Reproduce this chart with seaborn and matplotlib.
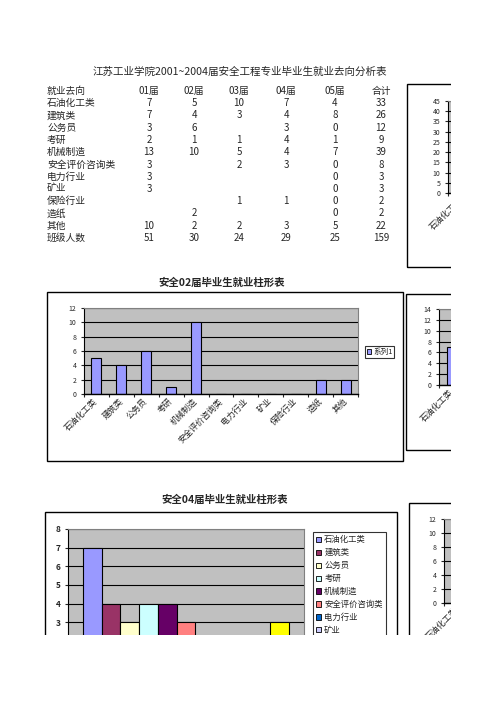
import matplotlib
matplotlib.use('Agg')
import matplotlib.pyplot as plt
from matplotlib.patches import Rectangle, Patch
import seaborn as sns
import pandas as pd
import numpy as np

# Data
categories = ['石油化工类', '建筑类', '公务员', '考研', '机械制造', '安全评价咨询类',
              '电力行业', '矿业', '保险行业', '造纸', '其他']
grad01 = [7, 7, 3, 2, 13, 3, 3, 3, None, None, 10]
grad02 = [5, 4, 6, 1, 10, None, None, None, None, 2, 2]
grad03 = [10, 3, None, 1, 5, 2, None, None, 1, None, 2]
grad04 = [7, 4, 3, 4, 4, 3, None, None, 1, None, 3]
grad05 = [4, 8, 0, 1, 7, 0, 0, 0, 0, 0, 5]
totals = [33, 26, 12, 9, 39, 8, 3, 3, 2, 2, 22]
class_sizes = [51, 30, 24, 29, 25, 159]
col_headers = ['01届', '02届', '03届', '04届', '05届', '合计']

series_colors = ['#9999FF', '#993366', '#FFFFCC', '#CCFFFF', '#660066', '#FF8080',
                 '#0066CC', '#CCCCFF', '#000080', '#FF00FF', '#FFFF00']

W, H = 496, 702

sns.set_style('white')
plt.rcParams['font.family'] = ['Noto Sans CJK SC', 'DejaVu Sans']

fig = plt.figure(figsize=(W / 100, H / 100), dpi=100)


def fx(x):
    return x / W


def fy(y):
    return 1 - y / H


def add_axes_px(x0, y0, x1, y1):
    return fig.add_axes([fx(x0), fy(y1), (x1 - x0) / W, (y1 - y0) / H])


def box_px(x0, y0, x1, y1):
    fig.add_artist(Rectangle((fx(x0), fy(y1)), (x1 - x0) / W, (y1 - y0) / H,
                             transform=fig.transFigure, fill=False,
                             edgecolor='black', linewidth=1.0, zorder=1))


def zeros(vals):
    return [0 if v is None else v for v in vals]


def style_chart(ax, ymax, ystep, tick_fs=5, n=11, xlabels=True, label_fs=6):
    ax.set_facecolor('#C0C0C0')
    ax.set_ylim(0, ymax)
    ax.set_yticks(np.arange(0, ymax + ystep / 2, ystep))
    ax.yaxis.grid(True, color='black', linewidth=0.8)
    ax.set_axisbelow(True)
    for s in ax.spines.values():
        s.set_visible(True)
        s.set_color('#808080')
        s.set_linewidth(0.8)
    ax.spines['left'].set_color('black')
    ax.spines['bottom'].set_color('black')
    ax.spines['bottom'].set_linewidth(1.0)
    ax.set_xlabel('')
    ax.set_ylabel('')
    ax.tick_params(axis='y', labelsize=tick_fs, length=2.5, direction='out',
                   pad=3, left=True, width=0.8)
    if xlabels:
        ax.set_xlim(-0.5, n - 0.5)
        ax.set_xticks(np.arange(-0.5, n), minor=True)
        ax.tick_params(axis='x', which='major', length=0, labelsize=label_fs, pad=4)
        ax.tick_params(axis='x', which='minor', length=2.5, direction='out',
                       bottom=True, width=0.8)
        for lab in ax.get_xticklabels():
            lab.set_rotation(45)
            lab.set_ha('right')
            lab.set_va('center')
            lab.set_rotation_mode('anchor')


def bar_chart(box, values, ymax, ystep, cut=False):
    ax = add_axes_px(*box)
    df = pd.DataFrame({'去向': categories, '人数': zeros(values)})
    sns.barplot(data=df, x='去向', y='人数', order=categories, color='#9999FF',
                width=0.4, edgecolor='black', linewidth=0.8, saturation=1, ax=ax)
    if cut:
        # only the first category label is on the visible part of the sheet
        ax.set_xticks(range(len(categories)))
        ax.set_xticklabels([categories[0]] + [''] * (len(categories) - 1))
    style_chart(ax, ymax, ystep)
    return ax


# ---- table ----
fig.text(fx(240), fy(72), '江苏工业学院2001~2004届安全工程专业毕业生就业去向分析表',
         ha='center', va='center', fontsize=7.6)
row_y0, row_step = 91, 12.25
col_x = [149, 194, 239, 286, 335, 381]
tfs = 7
fig.text(fx(47), fy(row_y0), '就业去向', ha='left', va='center', fontsize=tfs)
for j, h in enumerate(col_headers):
    fig.text(fx(col_x[j]), fy(row_y0), h, ha='center', va='center', fontsize=tfs)
columns = [grad01, grad02, grad03, grad04, grad05, totals]
for i, cat in enumerate(categories):
    y = row_y0 + row_step * (i + 1)
    fig.text(fx(47), fy(y), cat, ha='left', va='center', fontsize=tfs)
    for j, col in enumerate(columns):
        if col[i] is not None:
            fig.text(fx(col_x[j]), fy(y), str(col[i]), ha='center', va='center', fontsize=tfs)
y = row_y0 + row_step * (len(categories) + 1)
fig.text(fx(47), fy(y), '班级人数', ha='left', va='center', fontsize=tfs)
for j, v in enumerate(class_sizes):
    fig.text(fx(col_x[j]), fy(y), str(v), ha='center', va='center', fontsize=tfs)

# ---- partial chart (totals), right top ----
box_px(407, 84, 520, 267)
bar_chart((448, 101, 723, 193), totals, 45, 5, cut=True)

# ---- 02 chart ----
fig.text(fx(222), fy(283), '安全02届毕业生就业柱形表', ha='center', va='center',
         fontsize=7.5, fontweight='bold')
box_px(47, 292, 403, 461)
ax02 = bar_chart((84, 308, 358, 394), grad02, 12, 2)
leg2 = ax02.legend([Patch(facecolor='#9999FF', edgecolor='black', linewidth=0.6)], ['系列1'],
                   loc='center left', bbox_to_anchor=(fx(365), fy(352)),
                   bbox_transform=fig.transFigure, frameon=True, fancybox=False,
                   edgecolor='black', fontsize=5.5, handlelength=0.6, handleheight=0.6,
                   handletextpad=0.2, borderpad=0.25, borderaxespad=0)
leg2.get_frame().set_linewidth(0.8)

# ---- partial chart (01届), right middle ----
box_px(406, 294, 520, 450)
bar_chart((439, 309, 732, 385), grad01, 14, 2, cut=True)

# ---- 04 chart ----
fig.text(fx(225), fy(500), '安全04届毕业生就业柱形表', ha='center', va='center',
         fontsize=7.5, fontweight='bold')
box_px(45, 512, 397, 720)
ax04 = add_axes_px(68, 529, 304, 678)
df04 = pd.DataFrame({'届': '04届', '去向': categories, '人数': zeros(grad04)})
sns.barplot(data=df04, x='届', y='人数', hue='去向', hue_order=categories,
            palette=series_colors, width=0.873, gap=0, edgecolor='black',
            linewidth=0.8, saturation=1, legend=False, ax=ax04)
style_chart(ax04, 8, 1, tick_fs=6, xlabels=False)
ax04.set_xlim(-0.5, 0.5)
ax04.set_xticks([])
for lab in ax04.get_yticklabels():
    lab.set_fontweight('bold')
handles = [Patch(facecolor=c, edgecolor='black', linewidth=0.6) for c in series_colors]
leg4 = fig.legend(handles, categories, loc='upper left', bbox_to_anchor=(fx(313), fy(532)),
                  frameon=True, fancybox=False, edgecolor='black', fontsize=6,
                  handlelength=0.6, handleheight=0.6, handletextpad=0.35,
                  labelspacing=0.47, borderpad=0.4, borderaxespad=0)
leg4.get_frame().set_linewidth(0.8)

# ---- partial chart (03届), right bottom ----
box_px(409, 503, 520, 720)
bar_chart((444, 519, 719, 603), grad03, 12, 2, cut=True)

# page edges: the sheet is cut at the right and bottom
fig.add_artist(Rectangle((fx(451), 0), 1 - fx(451), 1, transform=fig.transFigure,
                         facecolor='white', edgecolor='none', zorder=100))
fig.add_artist(Rectangle((0, 0), 1, fy(635), transform=fig.transFigure,
                         facecolor='white', edgecolor='none', zorder=100))

fig.savefig('out.png', dpi=100)
